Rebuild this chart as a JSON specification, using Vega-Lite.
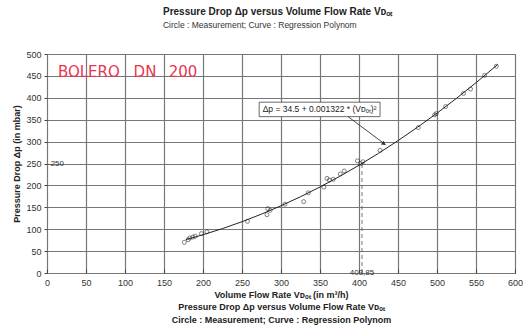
{
  "$schema": "https://vega.github.io/schema/vega-lite/v6.json",
  "width": 468,
  "height": 219,
  "autosize": {"type": "none"},
  "padding": {"left": 47, "top": 54, "right": 8, "bottom": 58},
  "background": "#ffffff",
  "config": {
    "font": "Liberation Sans",
    "view": {"stroke": "#333333", "strokeWidth": 1}
  },
  "title": {
    "text": "Pressure Drop Δp versus Volume Flow Rate Vᴅₒₜ",
    "subtitle": "Circle : Measurement; Curve : Regression Polynom",
    "fontSize": 10, "fontWeight": "bold", "color": "#222222",
    "subtitleFontSize": 8.5, "subtitleColor": "#333333", "subtitleFont": "Liberation Sans",
    "anchor": "start", "dx": 150, "offset": 21, "subtitlePadding": 4
  },
  "encoding": {
    "x": {"field": "v", "type": "quantitative", "scale": {"domain": [0, 600], "nice": false},
      "axis": {
        "orient": "bottom",
        "values": [0, 50, 100, 150, 200, 250, 300, 350, 400, 450, 500, 550, 600],
        "grid": true, "gridColor": "#777777", "gridWidth": 1.2, "gridOpacity": 1,
        "ticks": true, "tickSize": -4, "tickColor": "#444444", "domain": false,
        "labelFontSize": 9, "labelColor": "#333333", "labelPadding": 9, "labelFlush": false,
        "title": ["Volume Flow Rate Vᴅₒₜ  (in m³/h)", "Pressure Drop Δp versus Volume Flow Rate Vᴅₒₜ", "Circle : Measurement; Curve : Regression Polynom"],
        "titleFontSize": 9, "titleFontWeight": "bold", "titleColor": "#222222",
        "titlePadding": 3, "titleLineHeight": 12.5
      }},
    "y": {"field": "dp", "type": "quantitative", "scale": {"domain": [0, 500], "nice": false},
      "axis": {
        "values": [0, 50, 100, 150, 200, 250, 300, 350, 400, 450, 500],
        "grid": true, "gridColor": "#777777", "gridWidth": 1.2, "gridOpacity": 1,
        "tickSize": 3, "tickColor": "#444444", "domain": false,
        "labelFontSize": 9, "labelColor": "#333333", "labelPadding": 3,
        "title": "Pressure Drop Δp  (in mbar)",
        "titleFontSize": 9, "titleFontWeight": "bold", "titleColor": "#222222", "titlePadding": 4
      }}
  },
  "layer": [
    {
      "data": {"values": [
        {"v": 178, "dp": 76.4}, {"v": 190, "dp": 82.2}, {"v": 200, "dp": 87.4}, {"v": 225, "dp": 101.4},
        {"v": 250, "dp": 117.1}, {"v": 275, "dp": 134.5}, {"v": 300, "dp": 153.5}, {"v": 325, "dp": 174.1},
        {"v": 350, "dp": 196.4}, {"v": 375, "dp": 220.4}, {"v": 400, "dp": 246.0}, {"v": 425, "dp": 273.3},
        {"v": 450, "dp": 302.2}, {"v": 475, "dp": 332.8}, {"v": 500, "dp": 365.0}, {"v": 525, "dp": 398.9},
        {"v": 550, "dp": 434.4}, {"v": 578, "dp": 476.2}
      ]},
      "mark": {"type": "line", "color": "#222222", "strokeWidth": 1}
    },
    {
      "data": {"values": [
        {"v": 50}, {"v": 100}, {"v": 150}, {"v": 200}, {"v": 250}, {"v": 300},
        {"v": 350}, {"v": 400}, {"v": 450}, {"v": 500}, {"v": 550}
      ]},
      "mark": {"type": "rule", "stroke": "#777777", "strokeWidth": 1.2, "strokeOpacity": 1},
      "encoding": {
        "y": {"datum": 0, "type": "quantitative"},
        "y2": {"datum": 500}
      }
    },
    {
      "data": {"values": [
        {"dp": 50}, {"dp": 100}, {"dp": 150}, {"dp": 200}, {"dp": 250},
        {"dp": 300}, {"dp": 350}, {"dp": 400}, {"dp": 450}
      ]},
      "mark": {"type": "rule", "stroke": "#777777", "strokeWidth": 1.2, "strokeOpacity": 1},
      "encoding": {
        "x": {"datum": 0, "type": "quantitative"},
        "x2": {"datum": 600}
      }
    },
    {
      "data": {"values": [
        {"v": 176, "dp": 70}, {"v": 181, "dp": 76}, {"v": 183, "dp": 80}, {"v": 187, "dp": 82},
        {"v": 190, "dp": 84}, {"v": 198, "dp": 90}, {"v": 205, "dp": 94}, {"v": 257, "dp": 118},
        {"v": 282, "dp": 133}, {"v": 283, "dp": 147}, {"v": 286, "dp": 143}, {"v": 305, "dp": 157},
        {"v": 329, "dp": 163}, {"v": 335, "dp": 183}, {"v": 355, "dp": 196}, {"v": 359, "dp": 216},
        {"v": 362, "dp": 212}, {"v": 367, "dp": 214}, {"v": 376, "dp": 226}, {"v": 381, "dp": 233},
        {"v": 398, "dp": 256}, {"v": 402, "dp": 250}, {"v": 405, "dp": 254}, {"v": 427, "dp": 280},
        {"v": 476, "dp": 332}, {"v": 497, "dp": 361}, {"v": 499, "dp": 364}, {"v": 511, "dp": 380},
        {"v": 534, "dp": 410}, {"v": 543, "dp": 420}, {"v": 561, "dp": 451}, {"v": 576, "dp": 472}
      ]},
      "mark": {"type": "point", "shape": "circle", "filled": false, "stroke": "#222222", "strokeWidth": 0.8, "size": 16}
    },
    {
      "data": {"values": [{"v": 403.85, "dp": 0, "dp2": 250}]},
      "mark": {"type": "rule", "color": "#555555", "strokeWidth": 0.8, "strokeDash": [4, 3]},
      "encoding": {"y2": {"field": "dp2"}}
    },
    {
      "data": {"values": [{"v": 403.85, "dp": 0, "label": "403,85"}]},
      "mark": {"type": "text", "fontSize": 8, "color": "#333333", "baseline": "middle", "align": "center"},
      "encoding": {"text": {"field": "label"}}
    },
    {
      "data": {"values": [{"v": 0, "dp": 250, "label": "-250"}]},
      "mark": {"type": "text", "fontSize": 8, "color": "#333333", "baseline": "middle", "align": "left", "dx": 1},
      "encoding": {"text": {"field": "label"}}
    },
    {
      "data": {"values": [{"v": 272, "v2": 427, "dp": 390, "dp2": 357}]},
      "mark": {"type": "rect", "fill": "#ffffff", "stroke": "#444444", "strokeWidth": 0.8},
      "encoding": {"x2": {"field": "v2"}, "y2": {"field": "dp2"}}
    },
    {
      "data": {"values": [{"v": 349.5, "dp": 373.5, "label": "Δp = 34.5 + 0.001322 * (Vᴅₒₜ)²"}]},
      "mark": {"type": "text", "fontSize": 8.5, "color": "#222222", "baseline": "middle", "align": "center"},
      "encoding": {"text": {"field": "label"}}
    },
    {
      "data": {"values": [{"v": 386, "dp": 357}, {"v": 434, "dp": 293}]},
      "mark": {"type": "line", "color": "#333333", "strokeWidth": 0.9}
    },
    {
      "data": {"values": [{"v": 432, "dp": 295}]},
      "mark": {"type": "point", "shape": "triangle-right", "filled": true, "color": "#333333", "size": 22, "angle": 36, "opacity": 1}
    },
    {
      "data": {"values": [
        {"v": 14, "dp": 458, "label": "BOLERO"},
        {"v": 111, "dp": 458, "label": "DN"},
        {"v": 156, "dp": 458, "label": "200"}
      ]},
      "mark": {"type": "text", "font": "DejaVu Sans", "fontSize": 15, "color": "#e8364f", "baseline": "middle", "align": "left"},
      "encoding": {"text": {"field": "label"}}
    }
  ]
}
